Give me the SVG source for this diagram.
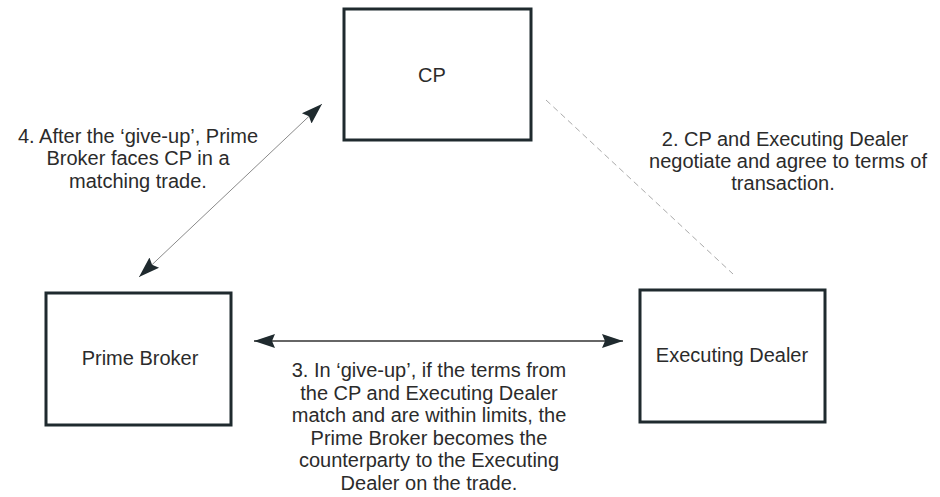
<svg xmlns="http://www.w3.org/2000/svg" width="940" height="497" viewBox="0 0 940 497">
<style>
.box{fill:#fff;stroke:#1f2a2e;stroke-width:3}
.t{font-family:"Liberation Sans",Arial,sans-serif;font-size:20px;fill:#2b2b2b;text-anchor:middle}
.ah{fill:#1f2a2e}
</style>
<defs>
<marker id="arr" markerUnits="userSpaceOnUse" markerWidth="22" markerHeight="16" refX="21" refY="7" orient="auto-start-reverse" viewBox="0 0 22 14">
<path class="ah" d="M0,0 L21,7 L0,14 L3,7 z"/>
</marker>
</defs>
<rect width="940" height="497" fill="#fff"/>
<g id="connectors">
<line x1="139" y1="277" x2="322" y2="104" stroke="#8a8a8a" stroke-width="1" marker-start="url(#arr)" marker-end="url(#arr)"/>
<line x1="254" y1="341" x2="623" y2="341" stroke="#333" stroke-width="1.5" marker-start="url(#arr)" marker-end="url(#arr)"/>
<line x1="546" y1="100" x2="733" y2="274" stroke="#aaa" stroke-width="1" stroke-dasharray="6 4"/>
</g>
<g id="cp">
<rect class="box" x="344" y="9" width="187" height="131"/>
<text class="t" x="432" y="82">CP</text>
</g>
<g id="prime-broker">
<rect class="box" x="46" y="293" width="185" height="132"/>
<text class="t" x="140" y="365">Prime Broker</text>
</g>
<g id="executing-dealer">
<rect class="box" x="640" y="290" width="185" height="132"/>
<text class="t" x="732" y="362">Executing Dealer</text>
</g>
<g id="label-4">
<text class="t" x="138" y="142.5">4. After the ‘give-up’, Prime</text>
<text class="t" x="138" y="165">Broker faces CP in a</text>
<text class="t" x="138" y="187.5">matching trade.</text>
</g>
<g id="label-2">
<text class="t" x="785" y="146">2. CP and Executing Dealer</text>
<text class="t" x="788" y="168">negotiate and agree to terms of</text>
<text class="t" x="783" y="190">transaction.</text>
</g>
<g id="label-3">
<text class="t" x="429" y="377">3. In ‘give-up’, if the terms from</text>
<text class="t" x="429" y="399.5">the CP and Executing Dealer</text>
<text class="t" x="429" y="422">match and are within limits, the</text>
<text class="t" x="429" y="444.5">Prime Broker becomes the</text>
<text class="t" x="429" y="467">counterparty to the Executing</text>
<text class="t" x="429" y="489.5">Dealer on the trade.</text>
</g>
</svg>
